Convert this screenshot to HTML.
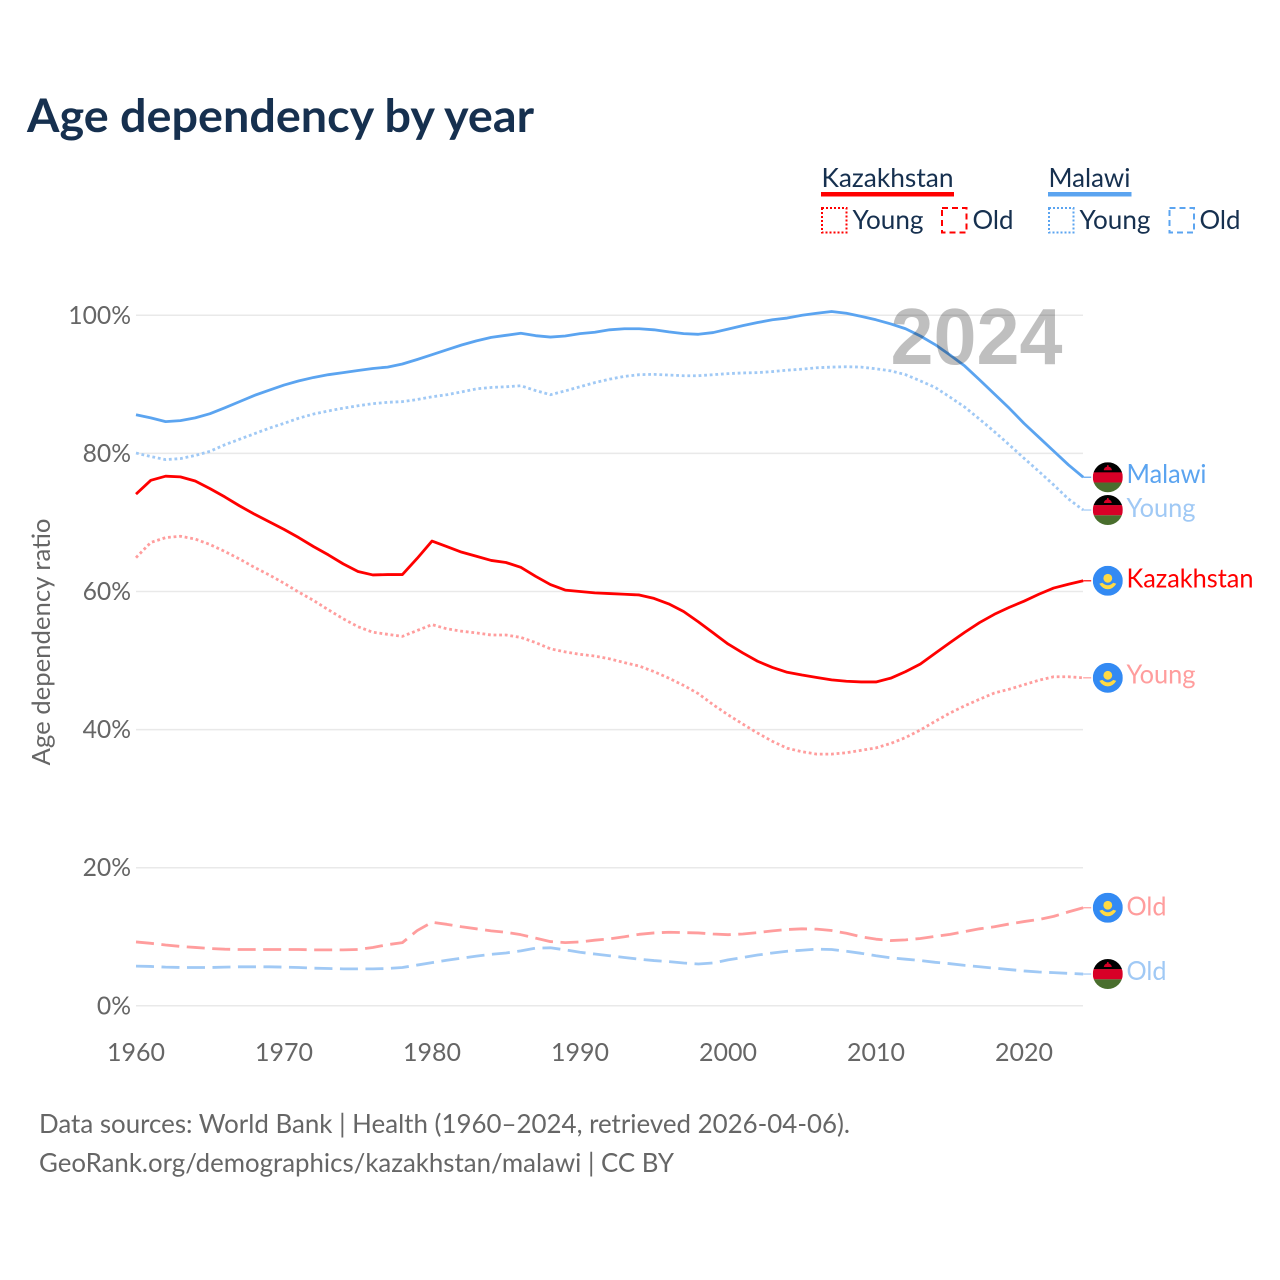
<!DOCTYPE html>
<html lang="en">
<head>
<meta charset="utf-8">
<title>Age dependency by year</title>
<style>
html,body{margin:0;padding:0;background:#fff;}
svg{display:block;}
text{font-family:"Lato","Carlito","Liberation Sans",sans-serif;}
.dark{fill:#16304f;}
.grey{fill:#666;}
</style>
</head>
<body>
<svg id="chart" xmlns="http://www.w3.org/2000/svg" width="1280" height="1280" viewBox="0 0 1280 1280">
  <defs>
    <clipPath id="flag-clip"><circle cx="0" cy="0" r="15"/></clipPath>
    <g id="flag-malawi" clip-path="url(#flag-clip)">
      <rect x="-15" y="-15" width="30" height="10.3" fill="#000"/>
      <rect x="-15" y="-4.9" width="30" height="10.2" fill="#d80027"/>
      <rect x="-15" y="5.3" width="30" height="10" fill="#496e2d"/>
      <path d="M-4 -7 A4 3.6 0 0 1 4 -7 Z" fill="#d80027"/>
      <rect x="-0.8" y="-12" width="1.6" height="2.5" fill="#d80027"/>
    </g>
    <g id="flag-kazakhstan" clip-path="url(#flag-clip)">
      <rect x="-15" y="-15" width="30" height="30" fill="#338af3"/>
      <circle cx="0" cy="-2.5" r="4.4" fill="#ffda44"/>
      <path d="M-8.5 3 L-5.5 2 Q0 7 5.5 2 L8.5 3 Q5 8.5 0 8.5 Q-5 8.5 -8.5 3 Z" fill="#ffda44"/>
    </g>
  </defs>

  <text class="dark" x="27" y="132" font-size="46" font-weight="700" textLength="507" lengthAdjust="spacingAndGlyphs">Age dependency by year</text>

  <g>
    <text class="dark" x="821.5" y="187" font-size="26.5" textLength="132" lengthAdjust="spacingAndGlyphs">Kazakhstan</text>
    <rect x="821" y="192" width="133" height="4.5" fill="#ff0000"/>
    <rect x="822" y="208" width="24.5" height="24.5" fill="none" stroke="#ff0000" stroke-width="2" stroke-dasharray="2 2"/>
    <text class="dark" x="852.5" y="229" font-size="26.5" textLength="71" lengthAdjust="spacingAndGlyphs">Young</text>
    <rect x="942" y="208" width="24.5" height="24.5" fill="none" stroke="#ff0000" stroke-width="2" stroke-dasharray="6 4"/>
    <text class="dark" x="972.5" y="229" font-size="26.5" textLength="41" lengthAdjust="spacingAndGlyphs">Old</text>
    <text class="dark" x="1048.5" y="187" font-size="26.5" textLength="82" lengthAdjust="spacingAndGlyphs">Malawi</text>
    <rect x="1048" y="192" width="83.5" height="4.5" fill="#5ba4f0"/>
    <rect x="1049" y="208" width="24.5" height="24.5" fill="none" stroke="#5ba4f0" stroke-width="2" stroke-dasharray="2 2"/>
    <text class="dark" x="1079.5" y="229" font-size="26.5" textLength="71" lengthAdjust="spacingAndGlyphs">Young</text>
    <rect x="1169.5" y="208" width="24.5" height="24.5" fill="none" stroke="#5ba4f0" stroke-width="2" stroke-dasharray="6 4"/>
    <text class="dark" x="1199.5" y="229" font-size="26.5" textLength="41" lengthAdjust="spacingAndGlyphs">Old</text>
  </g>

  <text class="grey" transform="translate(50,642) rotate(-90)" text-anchor="middle" font-size="25" textLength="247" lengthAdjust="spacingAndGlyphs">Age dependency ratio</text>

  <g id="grid"></g>
  <g id="y-ticks"></g>
  <g id="x-ticks"></g>
  <g id="series"></g>
  <g id="end-labels"></g>

  <text x="1062.5" y="364" text-anchor="end" font-size="80" font-weight="700" style="font-family:'Liberation Sans',sans-serif" fill="#000" fill-opacity="0.25" textLength="172" lengthAdjust="spacingAndGlyphs">2024</text>

  <text class="grey" x="39" y="1133" font-size="26" textLength="811" lengthAdjust="spacingAndGlyphs">Data sources: World Bank | Health (1960–2024, retrieved 2026-04-06).</text>
  <text class="grey" x="39" y="1172" font-size="26" textLength="635" lengthAdjust="spacingAndGlyphs">GeoRank.org/demographics/kazakhstan/malawi | CC BY</text>
</svg>
<script>
const startYear = 1960;
const xTickYears = [1960, 1970, 1980, 1990, 2000, 2010, 2020];
const yTickValues = [0, 20, 40, 60, 80, 100];
const kazakhstanTotal = [74.1,76.1,76.7,76.6,76.0,74.9,73.7,72.4,71.2,70.1,69.0,67.8,66.5,65.3,64.0,62.9,62.4,62.45,62.45,64.8,67.3,66.5,65.7,65.1,64.5,64.2,63.5,62.2,61.0,60.2,60.0,59.8,59.7,59.6,59.5,59.0,58.2,57.1,55.6,54.0,52.4,51.1,49.9,49.0,48.3,47.9,47.55,47.2,47.0,46.9,46.9,47.45,48.4,49.5,51.05,52.6,54.1,55.5,56.7,57.7,58.6,59.6,60.5,61.05,61.55];
const kazakhstanYoung = [64.9,67.1,67.8,68.0,67.6,66.8,65.8,64.7,63.5,62.4,61.2,59.9,58.7,57.35,56.05,54.9,54.1,53.8,53.5,54.35,55.2,54.6,54.25,54.0,53.7,53.7,53.35,52.6,51.7,51.25,50.9,50.65,50.25,49.7,49.2,48.4,47.45,46.4,45.2,43.6,42.15,40.8,39.5,38.3,37.3,36.8,36.45,36.45,36.65,37.0,37.35,38.0,38.85,39.95,41.2,42.4,43.45,44.4,45.3,45.85,46.5,47.15,47.65,47.65,47.5];
const kazakhstanOld = [9.25,9.05,8.8,8.6,8.45,8.3,8.2,8.15,8.15,8.15,8.15,8.15,8.1,8.1,8.1,8.15,8.45,8.85,9.15,10.9,12.1,11.8,11.45,11.15,10.85,10.65,10.3,9.8,9.3,9.15,9.25,9.5,9.7,10.0,10.35,10.55,10.65,10.6,10.55,10.4,10.3,10.4,10.6,10.85,11.05,11.15,11.1,10.9,10.5,10.0,9.65,9.45,9.55,9.75,10.05,10.35,10.75,11.15,11.45,11.85,12.2,12.5,12.95,13.6,14.2];
const malawiTotal = [85.6,85.15,84.6,84.75,85.15,85.75,86.6,87.5,88.4,89.15,89.9,90.5,91.0,91.4,91.7,92.0,92.3,92.5,92.95,93.6,94.3,95.0,95.7,96.3,96.8,97.1,97.4,97.05,96.85,97.0,97.35,97.55,97.9,98.05,98.05,97.9,97.6,97.35,97.25,97.5,98.0,98.5,98.95,99.35,99.6,100.0,100.3,100.55,100.3,99.85,99.35,98.75,98.05,97.0,95.75,94.25,92.65,90.65,88.6,86.55,84.35,82.35,80.35,78.35,76.55];
const malawiYoung = [80.05,79.55,79.1,79.25,79.7,80.3,81.25,82.05,82.85,83.65,84.35,85.1,85.7,86.15,86.55,86.9,87.2,87.4,87.5,87.8,88.2,88.5,88.9,89.35,89.55,89.65,89.8,89.1,88.5,89.05,89.65,90.25,90.75,91.15,91.4,91.45,91.35,91.25,91.25,91.4,91.55,91.65,91.7,91.85,92.05,92.2,92.4,92.5,92.55,92.5,92.25,91.95,91.4,90.5,89.55,88.15,86.7,84.95,83.15,81.25,79.3,77.4,75.45,73.4,71.8];
const malawiOld = [5.75,5.7,5.6,5.55,5.55,5.55,5.6,5.65,5.65,5.65,5.6,5.55,5.45,5.4,5.35,5.35,5.35,5.4,5.55,5.9,6.25,6.6,6.9,7.2,7.45,7.65,7.95,8.35,8.4,8.1,7.75,7.5,7.25,7.0,6.75,6.55,6.4,6.2,6.05,6.2,6.65,7.0,7.35,7.65,7.9,8.05,8.2,8.15,7.9,7.6,7.25,6.95,6.75,6.55,6.3,6.1,5.85,5.65,5.45,5.25,5.05,4.9,4.8,4.7,4.6];

const SVG_NS = 'http://www.w3.org/2000/svg';
const BLUE = '#5ba4f0', RED = '#ff0000', LIGHT_BLUE = '#a0c9f5', LIGHT_RED = '#ff9d9d';
function xScale(year) { return 136 + (year - 1960) * 14.8; }
function yScale(v) { return 1005.8 - v * 6.905; }
function make(tag, attrs) {
  const el = document.createElementNS(SVG_NS, tag);
  for (const k in attrs) el.setAttribute(k, attrs[k]);
  return el;
}

const grid = document.getElementById('grid');
const yTicks = document.getElementById('y-ticks');
yTickValues.forEach(function (v) {
  const line = make('line', { x1: 136, x2: 1083, y1: yScale(v), y2: yScale(v), stroke: '#e9e9e9', 'stroke-width': 1.5 });
  
  
  grid.appendChild(line);
  const label = make('text', { x: 131, y: yScale(v) + 8.5, 'text-anchor': 'end', 'font-size': 24.7, class: 'grey' });
  
  
  label.textContent = v + '%';
  yTicks.appendChild(label);
});

const xTicks = document.getElementById('x-ticks');
xTickYears.forEach(function (yr) {
  const label = make('text', { x: xScale(yr), y: 1061, 'text-anchor': 'middle', 'font-size': 25, class: 'grey' });
  
  
  label.textContent = yr;
  xTicks.appendChild(label);
});

const seriesGroup = document.getElementById('series');
const endGroup = document.getElementById('end-labels');
function drawSeries(values, color, dash, width, labelText, flagId, seriesName, labelDy, labelLen) {
  const pts = values.map(function (v, i) { return xScale(startYear + i).toFixed(2) + ',' + yScale(v).toFixed(2); }).join(' ');
  const line = make('polyline', { points: pts, fill: 'none', stroke: color, 'stroke-width': width, 'stroke-dasharray': dash, 'stroke-linejoin': 'round' });
  
  
  line.setAttribute('aria-label', seriesName);
  seriesGroup.appendChild(line);

  const lastY = yScale(values[values.length - 1]);
  const lastX = xScale(startYear + values.length - 1);
  const conn = make('line', { x1: lastX, x2: lastX + 8, y1: lastY, y2: lastY, stroke: color, 'stroke-width': 1.2 });
  
  
  endGroup.appendChild(conn);

  const flag = make('use', { href: '#' + flagId, transform: 'translate(1107.8,' + lastY + ')' });
  
  
  endGroup.appendChild(flag);

  const label = make('text', { x: 1126.5, y: lastY + 6.8 + labelDy, 'font-size': 26, fill: color, textLength: labelLen, lengthAdjust: 'spacingAndGlyphs' });
  
  
  label.textContent = labelText;
  endGroup.appendChild(label);
}
drawSeries(malawiOld, LIGHT_BLUE, '18 7.5', 2.8, 'Old', 'flag-malawi', 'Malawi old', -1, 40);
drawSeries(malawiYoung, LIGHT_BLUE, '2.8 2.8', 2.8, 'Young', 'flag-malawi', 'Malawi young', 0, 69);
drawSeries(kazakhstanOld, LIGHT_RED, '18 7.5', 2.8, 'Old', 'flag-kazakhstan', 'Kazakhstan old', 1, 40);
drawSeries(kazakhstanYoung, LIGHT_RED, '2.8 2.8', 2.8, 'Young', 'flag-kazakhstan', 'Kazakhstan young', -1, 69);
drawSeries(malawiTotal, BLUE, 'none', 2.8, 'Malawi', 'flag-malawi', 'Malawi total', -1, 80);
drawSeries(kazakhstanTotal, RED, 'none', 2.8, 'Kazakhstan', 'flag-kazakhstan', 'Kazakhstan total', 0, 127);
</script>
</body>
</html>
